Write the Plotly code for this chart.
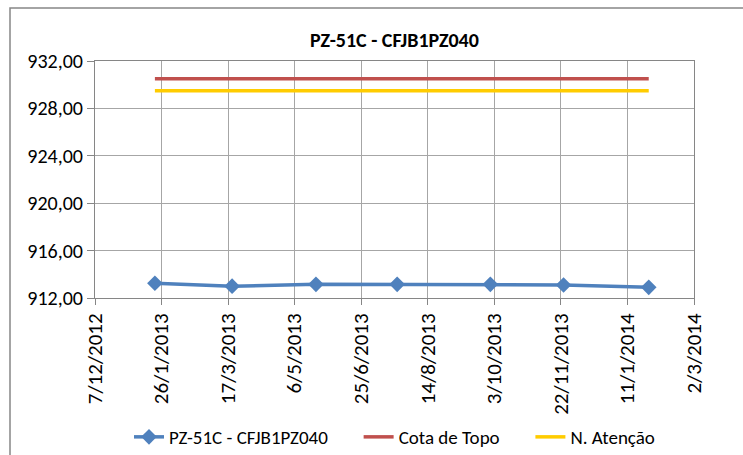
import plotly.graph_objects as go

# Piezometer readings
dates = ["2013-01-21", "2013-03-20", "2013-05-22", "2013-07-22",
         "2013-09-30", "2013-11-24", "2014-01-27"]
levels = [913.25, 913.00, 913.15, 913.15, 913.15, 913.10, 912.90]

# Reference levels
cota_topo = [930.5] * len(dates)
n_atencao = [929.5] * len(dates)

series_name = "PZ-51C - CFJB1PZ040"
title_text = "PZ-51C - CFJB1PZ040"

FONT = "Carlito, Calibri, Liberation Sans, Arial, sans-serif"
GRID = "#a6a6a6"
PAD = "\u00a0" * 6  # extra room between legend entries

fig = go.Figure()
fig.add_trace(go.Scatter(
    x=dates, y=levels, name=series_name + PAD, mode="lines+markers",
    line=dict(color="#4F81BD", width=3.5),
    marker=dict(symbol="diamond", size=12, color="#4F81BD"),
))
fig.add_trace(go.Scatter(
    x=dates, y=cota_topo, name="Cota de Topo" + PAD, mode="lines",
    line=dict(color="#C0504D", width=3.5),
))
fig.add_trace(go.Scatter(
    x=dates, y=n_atencao, name="N. Atenção", mode="lines",
    line=dict(color="#FFCC00", width=3.5),
))

fig.update_layout(
    width=743, height=455,
    margin=dict(l=95, r=49, t=61, b=157, autoexpand=False),
    paper_bgcolor="white", plot_bgcolor="white",
    separators=",.",
    font=dict(family=FONT, color="#000000"),
    title=dict(text="<b>" + title_text + "</b>", x=0.5, xref="paper",
               xanchor="center", y=1 - 40 / 455, yanchor="middle",
               font=dict(size=20, family=FONT)),
    showlegend=True,
    legend=dict(orientation="h", x=0.5, xanchor="center",
                yref="container", y=1 - 437 / 455, yanchor="middle",
                font=dict(size=19), bgcolor="rgba(0,0,0,0)"),
    xaxis=dict(
        type="date",
        range=["2012-12-07", "2014-03-02"],
        tick0="2012-12-07", dtick=50 * 86400000,
        tickformat="%-d/%-m/%Y", tickangle=-90,
        tickfont=dict(size=21),
        showgrid=True, gridcolor=GRID, gridwidth=1,
        ticks="outside", ticklen=6, tickcolor="#868686",
        showline=True, linecolor="#868686", linewidth=1, mirror=True,
        zeroline=False, automargin=False,
    ),
    yaxis=dict(
        range=[912, 932], dtick=4, tick0=912,
        tickformat=".2f", tickfont=dict(size=20),
        showgrid=True, gridcolor=GRID, gridwidth=1,
        ticks="outside", ticklen=7, tickcolor="#868686",
        showline=True, linecolor="#868686", linewidth=1, mirror=True,
        zeroline=False, automargin=False,
    ),
)

# Outer chart frame
fig.add_shape(type="rect", xref="paper", yref="paper",
              x0=(10 - 95) / 599, x1=1.5, y0=-1.5, y1=(298 - 8) / 237,
              line=dict(color="#868686", width=1.5), layer="below")

fig.write_html("out.html")
